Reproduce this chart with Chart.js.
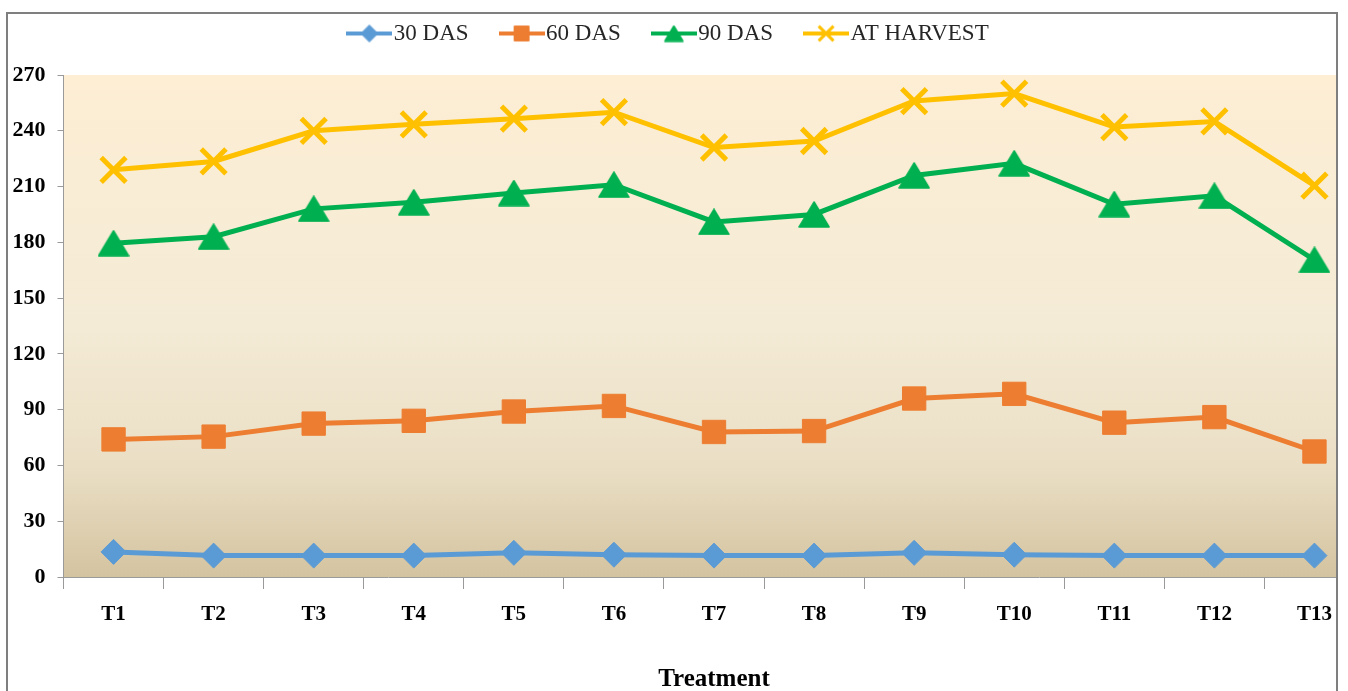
<!DOCTYPE html>
<html>
<head>
<meta charset="utf-8">
<title>Treatment chart</title>
<script src="https://cdn.jsdelivr.net/npm/chart.js@4.4.1/dist/chart.umd.min.js"></script>
<style>
  html, body { margin: 0; padding: 0; background: #fff; overflow: hidden; }
  #clip { position: absolute; left: 0; top: 0; width: 1336px; height: 691px; overflow: hidden; }
  #chart { position: absolute; left: -22px; top: -20px; }
  #frame { position: absolute; left: 6px; top: 12px; width: 1328px; height: 700px;
           border: 2px solid #7f7f7f; border-bottom: none; pointer-events: none; }
</style>
</head>
<body>
<div id="clip"><canvas id="chart" width="1409" height="720"></canvas></div>
<div id="frame"></div>
<script>
// data
const treatments = ['T1', 'T2', 'T3', 'T4', 'T5', 'T6', 'T7', 'T8', 'T9', 'T10', 'T11', 'T12', 'T13'];
const das30   = [13.5, 11.5, 11.5, 11.5, 13, 12, 11.5, 11.5, 13, 12, 11.5, 11.5, 11.5];
const das60   = [74, 75.5, 82.5, 84, 89, 92, 78, 78.5, 96, 98.5, 83, 86, 67.5];
const das90   = [179.5, 183, 198, 201.5, 206.5, 211, 191, 195, 216, 222.5, 200.5, 205, 170.5];
const harvest = [219, 223.5, 240, 243.5, 246.5, 250, 231, 234.5, 256, 260, 242, 245, 210.5];
const seriesNames = ['30 DAS', '60 DAS', '90 DAS', 'AT HARVEST'];
const yTicks = { min: 0, max: 270, step: 30 };

const BLUE = '#5B9BD5', ORANGE = '#ED7D31', GREEN = '#00B050', GOLD = '#FFC000';
const SERIF = "'Liberation Serif', 'Times New Roman', serif";

// triangle centred on its bounding box (like the office chart marker)
function triangleMarker(color, w, h) {
  const c = document.createElement('canvas');
  c.width = w + 2; c.height = h + 2;
  const g = c.getContext('2d');
  g.fillStyle = color; g.strokeStyle = color; g.lineWidth = 1.5; g.lineJoin = 'round';
  g.beginPath();
  g.moveTo(c.width / 2, 1);
  g.lineTo(w + 1, h + 1);
  g.lineTo(1, h + 1);
  g.closePath();
  g.fill(); g.stroke();
  return c;
}

// legend swatch: line with the marker in the middle
function legendIcon(color, shape, r, bw) {
  const c = document.createElement('canvas');
  c.width = 46; c.height = 22;
  const g = c.getContext('2d');
  g.strokeStyle = color; g.fillStyle = color; g.lineWidth = 4;
  g.beginPath(); g.moveTo(0, 11); g.lineTo(46, 11); g.stroke();
  if (shape === 'tri') {
    g.drawImage(triangleMarker(color, 18, 15), 23 - 10, 11 - 8.5);
  } else {
    g.lineWidth = bw;
    Chart.helpers.drawPoint(g, { pointStyle: shape, radius: r, borderWidth: bw, rotation: 0 }, 23, 11);
  }
  return c;
}

const legendIcons = [
  legendIcon(BLUE, 'rectRot', 8.5, 1),
  legendIcon(ORANGE, 'rect', 10.5, 1),
  legendIcon(GREEN, 'tri'),
  legendIcon(GOLD, 'crossRot', 10.5, 3)
];

const plotBackground = {
  id: 'plotBackground',
  beforeDraw(chart) {
    const { ctx, chartArea: a } = chart;
    const grad = ctx.createLinearGradient(0, a.top, 0, a.bottom);
    grad.addColorStop(0, '#FDEED4');
    grad.addColorStop(0.5, '#F4EBD6');
    grad.addColorStop(0.78, '#EADFC5');
    grad.addColorStop(1, '#D4C3A0');
    ctx.save();
    ctx.fillStyle = grad;
    ctx.fillRect(a.left, a.top, a.right - a.left, a.bottom - a.top);
    ctx.restore();
  }
};

function line(label, data, color, extra) {
  return Object.assign({
    label, data,
    borderColor: color,
    backgroundColor: color,
    pointBackgroundColor: color,
    pointBorderColor: color,
    borderWidth: 5,
    tension: 0
  }, extra);
}

new Chart(document.getElementById('chart'), {
  type: 'line',
  data: {
    labels: treatments,
    datasets: [
      line(seriesNames[0], das30, BLUE, { pointStyle: 'rectRot', pointRadius: 12.5, pointBorderWidth: 1 }),
      line(seriesNames[1], das60, ORANGE, { pointStyle: 'rect', pointRadius: 16.5, pointBorderWidth: 1 }),
      line(seriesNames[2], das90, GREEN, { pointStyle: triangleMarker(GREEN, 30, 25), pointRadius: 15 }),
      line(seriesNames[3], harvest, GOLD, { pointStyle: 'crossRot', pointRadius: 17.5, pointBorderWidth: 5 })
    ]
  },
  options: {
    responsive: false,
    animation: false,
    layout: { padding: { left: 0, right: 20, top: 2, bottom: 0 } },
    plugins: {
      tooltip: { enabled: false },
      title: { display: true, text: '', weight: 500, padding: { top: 10, bottom: 0 }, font: { size: 10, lineHeight: 1 } },
      legend: {
        position: 'top',
        labels: {
          usePointStyle: true,
          pointStyleWidth: 26,
          padding: 40,
          color: '#262626',
          font: { family: SERIF, size: 23 },
          generateLabels(chart) {
            const items = Chart.defaults.plugins.legend.labels.generateLabels(chart);
            items.forEach((it, i) => { it.pointStyle = legendIcons[i]; });
            return items;
          }
        }
      }
    },
    scales: {
      x: {
        offset: true,
        afterFit(scale) { scale.height = 123; },
        grid: { display: true, drawOnChartArea: false, offset: true, tickLength: 12, color: '#9A9A9A' },
        border: { display: true, color: '#9A9A9A' },
        ticks: { color: '#000', padding: 13, font: { family: SERIF, size: 21, weight: 'bold' } },
        title: { display: true, text: 'Treatment', color: '#000', padding: { top: 0, bottom: 5 },
                 font: { family: SERIF, size: 25, weight: 'bold' } }
      },
      y: {
        min: yTicks.min,
        max: yTicks.max,
        afterFit(scale) { scale.width = 85.5; },
        grid: { display: true, drawOnChartArea: false, tickLength: 6, color: '#9A9A9A' },
        border: { display: true, color: '#9A9A9A' },
        ticks: { stepSize: yTicks.step, color: '#000', padding: 12,
                 font: { family: SERIF, size: 22, weight: 'bold' } }
      }
    }
  },
  plugins: [plotBackground]
});
</script>
</body>
</html>
